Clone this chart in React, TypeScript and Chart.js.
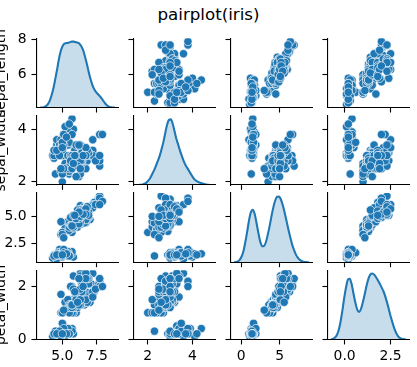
import React, { useEffect, useRef } from "react";
import { Chart, registerables } from "chart.js";

Chart.register(...registerables);

// ---- iris measurements (150 flowers) ----
const SEPAL_LENGTH = [5.1,4.9,4.7,4.6,5.0,5.4,4.6,5.0,4.4,4.9,5.4,4.8,4.8,4.3,5.8,5.7,5.4,5.1,5.7,5.1,5.4,5.1,4.6,5.1,4.8,5.0,5.0,5.2,5.2,4.7,4.8,5.4,5.2,5.5,4.9,5.0,5.5,4.9,4.4,5.1,5.0,4.5,4.4,5.0,5.1,4.8,5.1,4.6,5.3,5.0,
7.0,6.4,6.9,5.5,6.5,5.7,6.3,4.9,6.6,5.2,5.0,5.9,6.0,6.1,5.6,6.7,5.6,5.8,6.2,5.6,5.9,6.1,6.3,6.1,6.4,6.6,6.8,6.7,6.0,5.7,5.5,5.5,5.8,6.0,5.4,6.0,6.7,6.3,5.6,5.5,5.5,6.1,5.8,5.0,5.6,5.7,5.7,6.2,5.1,5.7,
6.3,5.8,7.1,6.3,6.5,7.6,4.9,7.3,6.7,7.2,6.5,6.4,6.8,5.7,5.8,6.4,6.5,7.7,7.7,6.0,6.9,5.6,7.7,6.3,6.7,7.2,6.2,6.1,6.4,7.2,7.4,7.9,6.4,6.3,6.1,7.7,6.3,6.4,6.0,6.9,6.7,6.9,5.8,6.8,6.7,6.7,6.3,6.5,6.2,5.9];
const SEPAL_WIDTH = [3.5,3.0,3.2,3.1,3.6,3.9,3.4,3.4,2.9,3.1,3.7,3.4,3.0,3.0,4.0,4.4,3.9,3.5,3.8,3.8,3.4,3.7,3.6,3.3,3.4,3.0,3.4,3.5,3.4,3.2,3.1,3.4,4.1,4.2,3.1,3.2,3.5,3.6,3.0,3.4,3.5,2.3,3.2,3.5,3.8,3.0,3.8,3.2,3.7,3.3,
3.2,3.2,3.1,2.3,2.8,2.8,3.3,2.4,2.9,2.7,2.0,3.0,2.2,2.9,2.9,3.1,3.0,2.7,2.2,2.5,3.2,2.8,2.5,2.8,2.9,3.0,2.8,3.0,2.9,2.6,2.4,2.4,2.7,2.7,3.0,3.4,3.1,2.3,3.0,2.5,2.6,3.0,2.6,2.3,2.7,3.0,2.9,2.9,2.5,2.8,
3.3,2.7,3.0,2.9,3.0,3.0,2.5,2.9,2.5,3.6,3.2,2.7,3.0,2.5,2.8,3.2,3.0,3.8,2.6,2.2,3.2,2.8,2.8,2.7,3.3,3.2,2.8,3.0,2.8,3.0,2.8,3.8,2.8,2.8,2.6,3.0,3.4,3.1,3.0,3.1,3.1,3.1,2.7,3.2,3.3,3.0,2.5,3.0,3.4,3.0];
const PETAL_LENGTH = [1.4,1.4,1.3,1.5,1.4,1.7,1.4,1.5,1.4,1.5,1.5,1.6,1.4,1.1,1.2,1.5,1.3,1.4,1.7,1.5,1.7,1.5,1.0,1.7,1.9,1.6,1.6,1.5,1.4,1.6,1.6,1.5,1.5,1.4,1.5,1.2,1.3,1.4,1.3,1.5,1.3,1.3,1.3,1.6,1.9,1.4,1.6,1.4,1.5,1.4,
4.7,4.5,4.9,4.0,4.6,4.5,4.7,3.3,4.6,3.9,3.5,4.2,4.0,4.7,3.6,4.4,4.5,4.1,4.5,3.9,4.8,4.0,4.9,4.7,4.3,4.4,4.8,5.0,4.5,3.5,3.8,3.7,3.9,5.1,4.5,4.5,4.7,4.4,4.1,4.0,4.4,4.6,4.0,3.3,4.2,4.2,4.2,4.3,3.0,4.1,
6.0,5.1,5.9,5.6,5.8,6.6,4.5,6.3,5.8,6.1,5.1,5.3,5.5,5.0,5.1,5.3,5.5,6.7,6.9,5.0,5.7,4.9,6.7,4.9,5.7,6.0,4.8,4.9,5.6,5.8,6.1,6.4,5.6,5.1,5.6,6.1,5.6,5.5,4.8,5.4,5.6,5.1,5.1,5.9,5.7,5.2,5.0,5.2,5.4,5.1];
const PETAL_WIDTH = [0.2,0.2,0.2,0.2,0.2,0.4,0.3,0.2,0.2,0.1,0.2,0.2,0.1,0.1,0.2,0.4,0.4,0.3,0.3,0.3,0.2,0.4,0.2,0.5,0.2,0.2,0.4,0.2,0.2,0.2,0.2,0.4,0.1,0.2,0.2,0.2,0.2,0.1,0.2,0.2,0.3,0.3,0.2,0.6,0.4,0.3,0.2,0.2,0.2,0.2,
1.4,1.5,1.5,1.3,1.5,1.3,1.6,1.0,1.3,1.4,1.0,1.5,1.0,1.4,1.3,1.4,1.5,1.0,1.5,1.1,1.8,1.3,1.5,1.2,1.3,1.4,1.4,1.7,1.5,1.0,1.1,1.0,1.2,1.6,1.5,1.6,1.5,1.3,1.3,1.3,1.2,1.4,1.2,1.0,1.3,1.2,1.3,1.3,1.1,1.3,
2.5,1.9,2.1,1.8,2.2,2.1,1.7,1.8,1.8,2.5,2.0,1.9,2.1,2.0,2.4,2.3,1.8,2.2,2.3,1.5,2.3,2.0,2.0,1.8,2.1,1.8,1.8,1.8,2.1,1.6,1.9,2.0,2.2,1.5,1.4,2.3,2.4,1.8,1.8,2.1,2.4,2.3,1.9,2.3,2.5,2.3,1.9,2.0,2.3,1.8];

// ---- diagonal density curves (x positions, density values) ----
const KDE_SL_X = [3.39,3.52,3.66,3.79,3.93,4.07,4.20,4.34,4.47,4.61,4.74,4.88,5.02,5.15,5.29,5.42,5.56,5.69,5.83,5.96,6.10,6.24,6.37,6.51,6.64,6.78,6.91,7.05,7.18,7.32,7.46,7.59,7.73,7.86,8.00,8.13,8.27,8.41,8.54,8.68,8.81];
const KDE_SL_Y = [0,0.001,0.003,0.008,0.019,0.038,0.068,0.110,0.163,0.223,0.284,0.336,0.368,0.382,0.385,0.387,0.391,0.394,0.394,0.391,0.388,0.382,0.367,0.342,0.304,0.259,0.212,0.168,0.133,0.108,0.091,0.079,0.067,0.053,0.037,0.022,0.011,0.005,0.002,0.001,0];
const KDE_SW_X = [1.52,1.60,1.69,1.77,1.86,1.94,2.02,2.11,2.19,2.28,2.36,2.44,2.53,2.61,2.70,2.78,2.86,2.95,3.03,3.12,3.20,3.28,3.37,3.45,3.54,3.62,3.70,3.79,3.87,3.96,4.04,4.12,4.21,4.29,4.38,4.46,4.54,4.63,4.71,4.80,4.88];
const KDE_SW_Y = [0,0.001,0.003,0.008,0.018,0.035,0.064,0.105,0.157,0.217,0.281,0.350,0.428,0.522,0.637,0.765,0.887,0.968,0.975,0.907,0.798,0.688,0.592,0.504,0.419,0.346,0.289,0.243,0.196,0.148,0.105,0.075,0.055,0.041,0.031,0.022,0.013,0.007,0.003,0.001,0];
const KDE_PL_X = [-0.94,-0.70,-0.45,-0.21,0.03,0.28,0.52,0.77,1.01,1.26,1.50,1.75,1.99,2.24,2.48,2.73,2.97,3.22,3.46,3.71,3.95,4.19,4.44,4.68,4.93,5.17,5.42,5.66,5.91,6.15,6.40,6.64,6.89,7.13,7.38,7.62,7.87,8.11,8.35,8.60,8.84];
const KDE_PL_Y = [0,0.001,0.003,0.009,0.021,0.042,0.075,0.116,0.159,0.190,0.199,0.183,0.149,0.110,0.078,0.061,0.062,0.077,0.105,0.139,0.176,0.209,0.235,0.248,0.249,0.238,0.216,0.188,0.156,0.124,0.094,0.067,0.046,0.029,0.018,0.010,0.005,0.002,0.001,0,0];
const KDE_PW_X = [-0.74,-0.64,-0.54,-0.43,-0.33,-0.23,-0.13,-0.03,0.08,0.18,0.28,0.38,0.48,0.59,0.69,0.79,0.89,0.99,1.10,1.20,1.30,1.40,1.50,1.61,1.71,1.81,1.91,2.01,2.12,2.22,2.32,2.42,2.52,2.63,2.73,2.83,2.93,3.03,3.14,3.24,3.34];
const KDE_PW_Y = [0.002,0.005,0.013,0.032,0.067,0.125,0.206,0.299,0.385,0.439,0.445,0.406,0.337,0.267,0.217,0.203,0.224,0.273,0.337,0.399,0.448,0.477,0.483,0.474,0.456,0.433,0.409,0.382,0.350,0.311,0.265,0.213,0.161,0.112,0.071,0.041,0.021,0.010,0.004,0.002,0.001];

// ---- labels and ticks ----
const TITLE = "pairplot(iris)";
const ROW_LABELS = ["sepal_length", "sepal_width", "", "petal_width"];
const Y_TICKS = [[6, 8], [2, 4], [2.5, 5], [0, 2]];
const Y_TICK_LABELS = [["6", "8"], ["2", "4"], ["2.5", "5.0"], ["0", "2"]];
const X_TICKS = [[5, 7.5], [2, 4], [0, 5], [0, 2.5]];
const X_TICK_LABELS = [["5.0", "7.5"], ["2", "4"], ["0", "5"], ["0.0", "2.5"]];
const X_LIMITS = [[3.117, 9.083], [1.352, 5.048], [-1.433, 9.333], [-0.943, 3.543]];
const Y_LIMITS = [[4.12, 8.08], [1.88, 4.52], [0.705, 7.195], [-0.02, 2.62]];
const KDE_TOP = [0.4138, 1.0312, 0.2629, 0.5077];

const VARS = [SEPAL_LENGTH, SEPAL_WIDTH, PETAL_LENGTH, PETAL_WIDTH];
const KDE_X = [KDE_SL_X, KDE_SW_X, KDE_PL_X, KDE_PW_X];
const KDE_Y = [KDE_SL_Y, KDE_SW_Y, KDE_PL_Y, KDE_PW_Y];

// ---- layout / style ----
const W = 417, H = 367;
const COL_LEFT = [36.3, 133.3, 230.3, 327.3];
const AX_W = 82.5;
const ROW_TOP = [38.3, 115.6, 192.9, 270.2];
const AX_H = 69.4;
const BLUE = "#1f77b4";
const FILL = "rgba(31,119,180,0.25)";
const FONT = "DejaVu Sans";
const FS = 13.9;

function Cell({ i, j }: { i: number; j: number }) {
  const ref = useRef<HTMLCanvasElement>(null);
  const axL = COL_LEFT[j], axT = ROW_TOP[i];
  const axR = axL + AX_W, axB = axT + AX_H;
  const cL = j === 0 ? 0 : Math.floor(axL) - 14;
  const cT = Math.floor(axT) - 8;
  const cR = Math.min(W, Math.ceil(axR) + 6);
  const cB = i === 3 ? H : Math.ceil(axB) + 8;
  const cw = cR - cL, ch = cB - cT;
  const padL = axL - cL, padT = axT - cT, padR = cR - axR, padB = cB - axB;

  useEffect(() => {
    const canvas = ref.current;
    if (!canvas) return;
    const diag = i === j;
    const datasets: any[] = [];
    if (diag) {
      datasets.push({
        type: "line",
        data: KDE_X[j].map((x, k) => ({ x, y: KDE_Y[j][k] })),
        xAxisID: "x",
        yAxisID: "yk",
        borderColor: BLUE,
        borderWidth: 2.08,
        backgroundColor: FILL,
        fill: "origin",
        pointRadius: 0,
        cubicInterpolationMode: "monotone",
        clip: 0,
      });
    } else {
      datasets.push({
        type: "scatter",
        data: VARS[j].map((x, k) => ({ x, y: VARS[i][k] })),
        xAxisID: "x",
        yAxisID: "y",
        pointRadius: 4.17,
        pointHoverRadius: 4.17,
        backgroundColor: BLUE,
        borderColor: "#ffffff",
        borderWidth: 0.67,
        clip: 0,
      });
    }
    const grid = {
      display: true,
      drawOnChartArea: false,
      drawTicks: true,
      tickLength: 4.86,
      tickWidth: 1.1,
      tickColor: "#000",
    };
    const border = { display: true, color: "#000", width: 1.1, z: 1 };
    const zeroPad = (s: any) => {
      s.paddingLeft = 0; s.paddingRight = 0; s.paddingTop = 0; s.paddingBottom = 0;
    };
    const chart = new Chart(canvas, {
      type: "scatter",
      data: { datasets },
      options: {
        animation: false,
        responsive: false,
        devicePixelRatio: 1,
        events: [],
        layout: { padding: { left: 0, top: padT, right: padR, bottom: 0 } },
        plugins: { legend: { display: false }, tooltip: { enabled: false }, title: { display: false } },
        scales: {
          x: {
            type: "linear",
            position: "bottom",
            bounds: "data",
            min: X_LIMITS[j][0],
            max: X_LIMITS[j][1],
            grid,
            border,
            afterBuildTicks: (s: any) => { s.ticks = X_TICKS[j].map((v) => ({ value: v })); },
            ticks: {
              display: i === 3,
              color: "#000",
              font: { family: FONT, size: FS },
              padding: 3.8,
              autoSkip: false,
              maxRotation: 0,
              minRotation: 0,
              callback: (_v: any, idx: number) => X_TICK_LABELS[j][idx],
            },
            afterFit: (s: any) => { s.height = padB; zeroPad(s); },
          },
          y: {
            type: "linear",
            position: "left",
            bounds: "data",
            min: Y_LIMITS[i][0],
            max: Y_LIMITS[i][1],
            grid,
            border,
            afterBuildTicks: (s: any) => { s.ticks = Y_TICKS[i].map((v) => ({ value: v })); },
            ticks: {
              display: j === 0,
              color: "#000",
              font: { family: FONT, size: FS },
              padding: 4.86,
              autoSkip: false,
              callback: (_v: any, idx: number) => Y_TICK_LABELS[i][idx],
            },
            title: {
              display: j === 0 && ROW_LABELS[i] !== "",
              text: ROW_LABELS[i],
              color: "#000",
              font: { family: FONT, size: FS },
              padding: { top: -6.8, bottom: 0 },
            },
            afterFit: (s: any) => { s.width = padL; zeroPad(s); },
          },
          yk: {
            type: "linear",
            position: "left",
            display: false,
            min: 0,
            max: KDE_TOP[j],
          },
        },
      } as any,
    });
    return () => chart.destroy();
  }, []);

  return (
    <canvas
      ref={ref}
      width={cw}
      height={ch}
      style={{ position: "absolute", left: cL, top: cT, width: cw, height: ch }}
    />
  );
}

export default function App() {
  const cells: JSX.Element[] = [];
  for (let i = 0; i < 4; i++) for (let j = 0; j < 4; j++) cells.push(<Cell key={`${i}-${j}`} i={i} j={j} />);
  return (
    <div style={{ position: "absolute", left: 0, top: 0, width: W, height: H, overflow: "hidden", background: "#fff" }}>
      <div
        style={{
          position: "absolute",
          left: 0,
          top: 6.3,
          width: W,
          textAlign: "center",
          fontFamily: FONT,
          fontSize: 16.7,
          lineHeight: "16.7px",
          color: "#000",
        }}
      >
        {TITLE}
      </div>
      {cells}
    </div>
  );
}
